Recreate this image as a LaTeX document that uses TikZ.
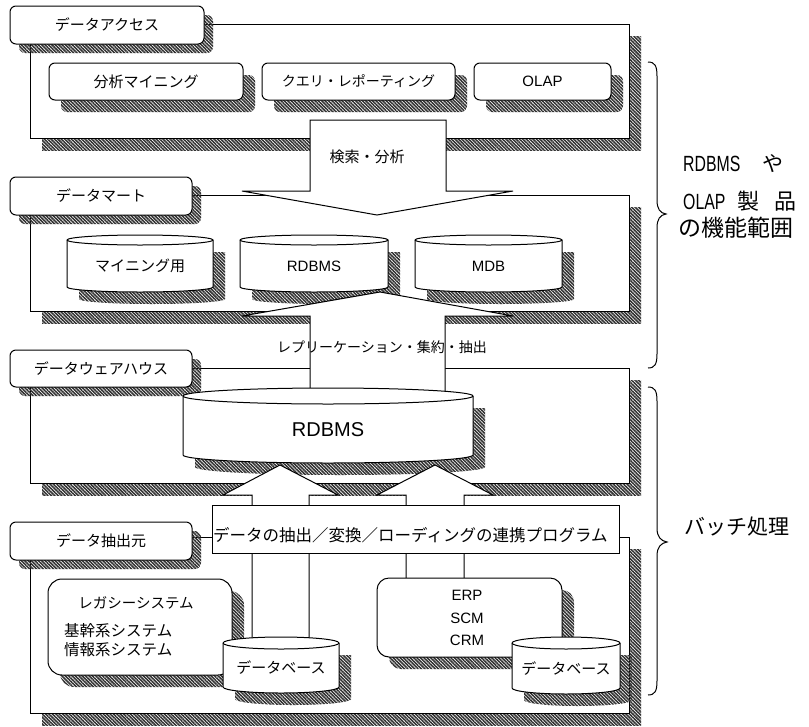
\documentclass[tikz,border=0pt]{standalone}
\usepackage{graphicx}
\usepackage{fontspec}
\setmainfont{Liberation Sans}
\newfontfamily\jp{Noto Sans CJK JP}
\newfontfamily\lat{Liberation Sans}
\usetikzlibrary{shadows,patterns.meta}
\newcommand{\fsz}[1]{\fontsize{#1}{#1}\selectfont}
\tikzset{
  hatch/.style={pattern={Lines[angle=-45,distance=2.4pt,line width=1.6pt]},pattern color=black!80},
  shd/.style={general shadow={shadow xshift=#1, shadow yshift=-#1, hatch}},
  panel/.style={draw, line width=1pt, fill=white, shd=12pt, inner sep=0pt, outer sep=0pt},
  lbl/.style={draw, line width=1pt, fill=white, rounded corners=6pt, shd=9pt, inner sep=0pt, font=\jp\fsz{15}},
  ibox/.style={draw, line width=1pt, fill=white, rounded corners=6pt, shd=12pt, inner sep=0pt, font=\jp\fsz{15}},
  arr/.style={draw, line width=1pt, fill=white, line join=miter},
  cylline/.style={line width=1pt},
  txt/.style={inner sep=0pt, font=\jp\fsz{15}},
}
% #1 name, #2 cx, #3 ytop, #4 ybot, #5 rx, #6 ry, #7 text
\newcommand{\dbc}[7]{%
  \path[hatch] ({#2-#5+12},{#3+12}) -- ({#2-#5+12},{#4+12}) arc[start angle=180,end angle=360,x radius=#5pt,y radius=#6pt] -- ({#2+#5+12},{#3+12}) -- cycle;
  \draw[cylline, fill=white] ({#2-#5},{#3}) -- ({#2-#5},{#4}) arc[start angle=180,end angle=360,x radius=#5pt,y radius=#6pt] -- ({#2+#5},{#3}) arc[start angle=0,end angle=180,x radius=#5pt,y radius=#6pt] -- cycle;
  \draw[cylline] ({#2-#5},{#3}) arc[start angle=180,end angle=360,x radius=#5pt,y radius=#6pt];
  \node[txt] (#1) at ({#2},{(#3+#4)/2+#6/2}) {#7};
}
\begin{document}
\begin{tikzpicture}[x=1pt,y=-1pt]
\useasboundingbox[fill=white] (0,0) rectangle (809,726);

% ---- data access layer
\node[panel, minimum width=599pt, minimum height=114pt] (pa) at (329.5,81) {};
\node[lbl, minimum width=194pt, minimum height=38pt] (la) at (107,25) {データアクセス};
\node[ibox, minimum width=194pt, minimum height=37pt] (b1) at (146,81.5) {分析マイニング};
\node[ibox, minimum width=193pt, minimum height=37pt, font=\jp\fsz{14}] (b2) at (358.5,81.5) {クエリ・レポーティング};
\node[ibox, minimum width=137pt, minimum height=37pt, font=\lat\fsz{15}] (b3) at (542.5,81.5) {OLAP};

% ---- data mart layer
\node[panel, minimum width=599pt, minimum height=116pt] (pm) at (329.5,253) {};
\node[lbl, minimum width=182pt, minimum height=38pt] (lm) at (101,196) {データマート};
\dbc{c1}{140}{240}{287}{73}{5}{マイニング用}
\dbc{c2}{314}{240}{287}{74}{5}{\lat RDBMS}
\dbc{c3}{488.5}{240}{287}{73.5}{5}{\lat MDB}

% search/analysis arrow
\draw[arr] (310,120) -- (446,120) -- (446,191) -- (513,191) -- (377,215) -- (242,191) -- (310,191) -- cycle;
\node[txt] (t1) at (367,157) {検索・分析};

% ---- data warehouse layer
\node[panel, minimum width=599pt, minimum height=115pt] (pw) at (329.5,425.5) {};
\node[lbl, minimum width=182pt, minimum height=37pt] (lw) at (101,368.5) {データウェアハウス};
\draw[arr] (310,392) -- (310,316) -- (242,316) -- (380,292) -- (513,316) -- (445,316) -- (445,392) -- cycle;
\node[txt, font=\jp\fsz{14}] (t2) at (382,347) {レプリーケーション・集約・抽出};
\dbc{c4}{328}{396}{455}{145}{8}{\lat\fsz{20}RDBMS}

% ---- data source layer
\node[panel, minimum width=599pt, minimum height=176pt] (ps) at (329.5,625) {};
\node[lbl, minimum width=182pt, minimum height=38pt] (ls) at (101,541) {データ抽出元};
\draw[arr] (252,645) -- (252,495) -- (223,495) -- (280,465) -- (338,495) -- (309,495) -- (309,645) -- cycle;
\draw[arr] (406,585) -- (406,495) -- (377,495) -- (435,465) -- (493,495) -- (464,495) -- (464,585) -- cycle;
\node[draw, line width=1pt, fill=white, minimum width=407pt, minimum height=48pt, inner sep=0pt] (etl) at (415.5,529) {};
\node[txt, anchor=west, font=\jp\fsz{16.5}] (etlt) at (213,535) {データの抽出／変換／ローディングの連携プログラム};

\node[ibox, rounded corners=14pt, minimum width=184pt, minimum height=96pt] (lg) at (140,627) {};
\node[txt, font=\jp\fsz{14.5}] (lg1) at (136,603) {レガシーシステム};
\node[txt, anchor=west, font=\jp\fsz{15.5}] (lg2) at (64,631) {基幹系システム};
\node[txt, anchor=west, font=\jp\fsz{15.5}] (lg3) at (64,650) {情報系システム};

\node[ibox, rounded corners=12pt, minimum width=185pt, minimum height=79pt] (erp) at (469.5,617.5) {};
\node[txt, align=center, font=\lat\fontsize{15}{22.5}\selectfont] (erpt) at (467,618) {ERP\\SCM\\CRM};

\dbc{c5}{281}{643}{687}{58}{6}{データベース}
\dbc{c6}{566}{643}{688}{54}{6}{データベース}

% ---- braces
\draw[line width=1pt] (648,62) .. controls (655,62) and (657,66) .. (657,76) -- (657,200) .. controls (657,209) and (660,213) .. (666,214) .. controls (660,215) and (657,219) .. (657,228) -- (657,354) .. controls (657,364) and (655,368) .. (648,368);
\draw[line width=1pt] (648,387) .. controls (655,387) and (657,391) .. (657,401) -- (657,528) .. controls (657,537) and (661,541) .. (667,542) .. controls (661,543) and (657,547) .. (657,556) -- (657,681) .. controls (657,691) and (655,695) .. (648,695);

\node[txt, anchor=west] (r1) at (683,164) {{\lat\fsz{22}\scalebox{0.72}[1]{RDBMS}}\hspace{22pt}{\fsz{21}や}};
\node[txt, anchor=west] (r2) at (683,201) {{\lat\fsz{22}\scalebox{0.72}[1]{OLAP}}\hspace{12pt}{\fsz{22}製\hspace{15pt}品}};
\node[txt, anchor=west, font=\jp\fsz{23}] (r3) at (678,228) {の機能範囲};
\node[txt, anchor=west, font=\jp\fsz{21}] (r4) at (684,527) {バッチ処理};
\end{tikzpicture}
\end{document}
